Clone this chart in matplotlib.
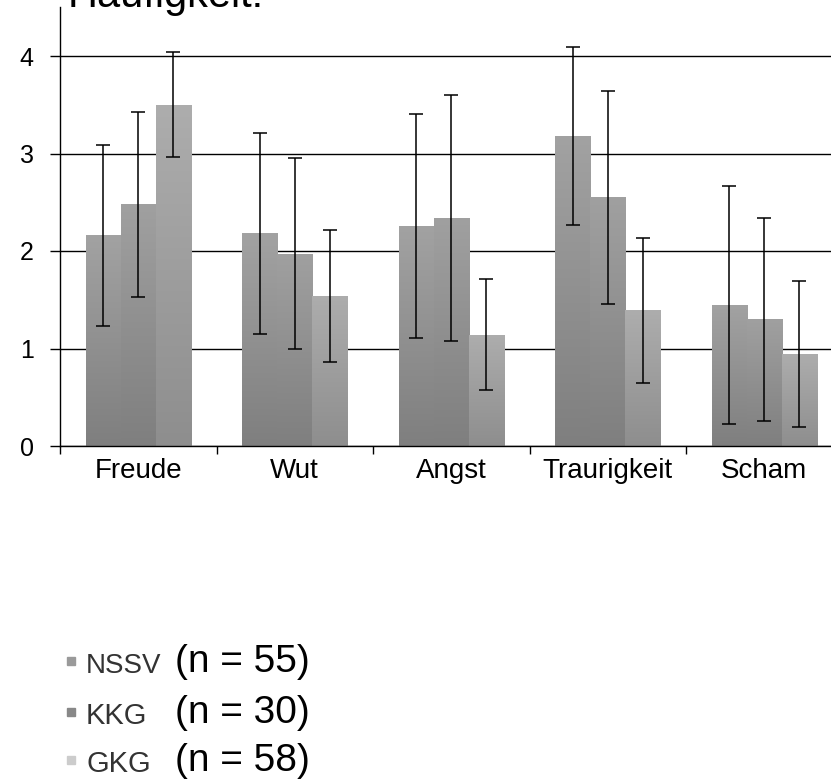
import numpy as np
import matplotlib
matplotlib.use('Agg')
import matplotlib.pyplot as plt
from matplotlib.colors import LinearSegmentedColormap
from matplotlib.patches import Rectangle

plt.rcParams['font.family'] = ['Liberation Sans', 'DejaVu Sans']

categories = ['Freude', 'Wut', 'Angst', 'Traurigkeit', 'Scham']
groups = ['NSSV', 'KKG', 'GKG']
group_n = ['(n = 55)', '(n = 30)', '(n = 58)']
means = {
    'NSSV': [2.16, 2.18, 2.26, 3.18, 1.45],
    'KKG':  [2.48, 1.97, 2.34, 2.55, 1.30],
    'GKG':  [3.50, 1.54, 1.14, 1.39, 0.94],
}
sds = {
    'NSSV': [0.93, 1.03, 1.15, 0.91, 1.22],
    'KKG':  [0.95, 0.98, 1.26, 1.09, 1.04],
    'GKG':  [0.54, 0.68, 0.57, 0.74, 0.75],
}
# top / bottom shade of each bar gradient
shades = {
    'NSSV': ('#a2a2a2', '#7f7f7f'),
    'KKG':  ('#a0a0a0', '#7f7f7f'),
    'GKG':  ('#adadad', '#8e8e8e'),
}
legend_colors = ['#9a9a9a', '#888888', '#cccccc']

W, H = 831, 779
fig = plt.figure(figsize=(W / 100, H / 100), dpi=100)
ax = fig.add_axes([60 / W, (H - 446) / H, 782.5 / W, 438.75 / H])

x = np.arange(len(categories))
bw = 0.224
for i, g in enumerate(groups):
    pos = x + (i - 1) * bw
    bars = ax.bar(pos, means[g], width=bw, color=shades[g][1], zorder=2, linewidth=0)
    cmap = LinearSegmentedColormap.from_list(g, [shades[g][1], shades[g][0]])
    grad = np.linspace(0, 1, 128).reshape(-1, 1)
    for p in bars:
        bx, by = p.get_x(), p.get_y()
        im = ax.imshow(grad, cmap=cmap, origin='lower', aspect='auto', zorder=2.1,
                       extent=[bx, bx + p.get_width(), by, by + p.get_height()])
        im.set_clip_path(p)
    ax.errorbar(pos, means[g], yerr=sds[g], fmt='none', ecolor='black',
                elinewidth=1.1, capsize=4.8, capthick=1.1, zorder=3)

ax.set_xlim(-0.5, 4.5)
ax.set_ylim(0, 4.5)
ax.set_yticks([0, 1, 2, 3, 4])
ax.set_xticks(x)
ax.set_xticklabels(categories)
ax.set_xticks(np.arange(-0.5, 5, 1), minor=True)
ax.tick_params(axis='x', which='major', length=0, pad=9, labelsize=20)
ax.tick_params(axis='x', which='minor', length=6, width=1, direction='out')
ax.tick_params(axis='y', length=7, width=1, direction='out', pad=12, labelsize=18)
ax.yaxis.grid(True, color='black', linewidth=1.0, zorder=0)
ax.set_axisbelow(True)
for s in ['top', 'right']:
    ax.spines[s].set_visible(False)
for s in ['left', 'bottom']:
    ax.spines[s].set_linewidth(1.0)

fig.text(68 / W, 1 - 7 / H, 'Häufigkeit:', fontsize=30, va='baseline', ha='left')

rows_y = [673, 724, 772]
lab_sizes = [20, 21, 21]
for lab, n, col, yb, fs in zip(groups, group_n, legend_colors, rows_y, lab_sizes):
    fig.patches.append(Rectangle((67 / W, 1 - (yb - 8) / H), 8 / W, 8 / H,
                                 transform=fig.transFigure, color=col, figure=fig))
    fig.text(86 / W, 1 - yb / H, lab, fontsize=fs, color='#333333', va='baseline')
    fig.text(175 / W, 1 - (yb - 1) / H, n, fontsize=28, va='baseline')

fig.savefig('out.png', dpi=100)
